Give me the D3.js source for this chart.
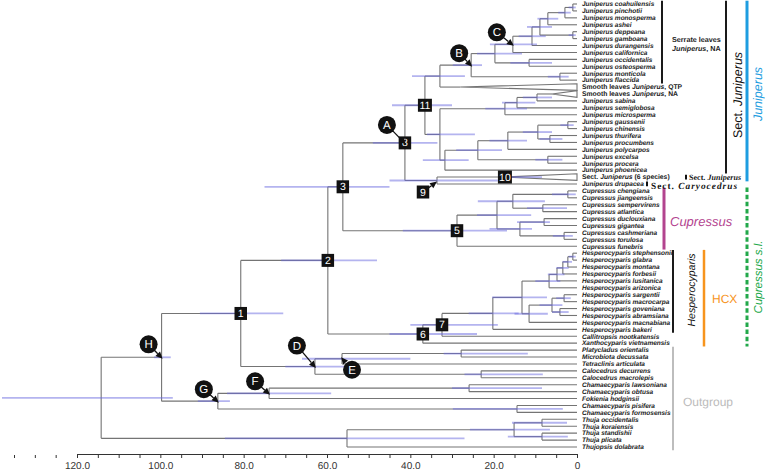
<!DOCTYPE html>
<html><head><meta charset="utf-8">
<script src="https://cdn.jsdelivr.net/npm/d3@7"></script>
<style>body{margin:0;background:#fff}svg{display:block} text{text-rendering:geometricPrecision}</style>
</head><body>
<script>
// ---------- DATA ----------
// tips, top to bottom (*...* = italic)
const tipLabels = [
"*Juniperus coahuilensis*","*Juniperus pinchotii*","*Juniperus monosperma*","*Juniperus ashei*",
"*Juniperus deppeana*","*Juniperus gamboana*","*Juniperus durangensis*","*Juniperus californica*",
"*Juniperus occidentalis*","*Juniperus osteosperma*","*Juniperus monticola*","*Juniperus flaccida*",
"Smooth leaves *Juniperus*, QTP","Smooth leaves *Juniperus*, NA","*Juniperus sabina*","*Juniperus semiglobosa*",
"*Juniperus microsperma*","*Juniperus gaussenii*","*Juniperus chinensis*","*Juniperus thurifera*",
"*Juniperus procumbens*","*Juniperus polycarpos*","*Juniperus excelsa*","*Juniperus procera*",
"*Juniperus phoenicea*","Sect. *Juniperus* (6 species)","*Juniperus drupacea*","*Cupressus chengiana*",
"*Cupressus jiangeensis*","*Cupressus sempervirens*","*Cupressus atlantica*","*Cupressus duclouxiana*",
"*Cupressus gigantea*","*Cupressus cashmeriana*","*Cupressus torulosa*","*Cupressus funebris*",
"*Hesperocyparis stephensonii*","*Hesperocyparis glabra*","*Hesperocyparis montana*","*Hesperocyparis forbesii*",
"*Hesperocyparis lusitanica*","*Hesperocyparis arizonica*","*Hesperocyparis sargentii*","*Hesperocyparis macrocarpa*",
"*Hesperocyparis goveniana*","*Hesperocyparis abramsiana*","*Hesperocyparis macnabiana*","*Hesperocyparis bakeri*",
"*Callitropsis nootkatensis*","*Xanthocyparis vietnamensis*","*Platycladus orientalis*","*Microbiota decussata*",
"*Tetraclinis articulata*","*Calocedrus decurrens*","*Calocedrus macrolepis*","*Chamaecyparis lawsoniana*",
"*Chamaecyparis obtusa*","*Fokienia hodginsii*","*Chamaecyparis pisifera*","*Chamaecyparis formosensis*",
"*Thuja occidentalis*","*Thuja koraiensis*","*Thuja standishii*","*Thuja plicata*","*Thujopsis dolabrata*"
];
const tipParents = [
"nC5","nC5","nC4","nC3","nC6","nC6","nC1","nC","nOO","nOO","nMF","nMF",
"nJa","nS3","nS3","nS2","nS1","nGC","nGC","nTP","nTP","nP2","nEP","nEP",
"nJc","n9","n9","nCJ","nCJ","nSA","nSA","nDG","nDG","nCT","nCT","n5",
"nHt5","nHt5","nHt4","nHt3","nHt2","nHt1","nSM","nSM","nGA","nGA","nHl1","nH0",
"n7","n6","nPM","nPM","nE","nCal","nCal","nLO","nLO","nF","nPF","nPF",
"nOK","nOK","nSP","nSP","nT"
];
// collapsed clades: tip index -> crown age (Ma)
const collapsedTips = [12, 13, 25];
const collapsedCrownAge = [28, 6, 17.3];
const collapsedCrownHpd = [null, null, [17, 8.4]];

// internal nodes: id, parent, age (Ma), 95% HPD [old, young]
const nodeIds     = ["root","nH","n1","n2","n3","n8","n11","nJa","nB","nX1","nC","nC1","nC2","nC3","nC4","nC5","nC6","nOO","nMF",
                     "nJb","nS1","nS2","nS3","nJc","nP1","nP2","nP3","nGC","nTP","nEP","n9",
                     "n5","nCu","nCa","nCJ","nSA","nCb","nDG","nCT",
                     "n6","n7","nH0","nHa","nHt1","nHt2","nHt3","nHt4","nHt5","nHl1","nHl2","nSM","nGA",
                     "nD","nE","nPM","nCal","nG","nF","nLO","nPF","nT","nTc","nOK","nSP"];
const nodeParents = ["","root","nH","n1","n2","n3","n8","n11","nJa","nB","nX1","nC","nC1","nC2","nC3","nC4","nC2","nX1","nB",
                     "n11","nJb","nS1","nS2","nJb","nJc","nP1","nP2","nP3","nP3","nP1","n8",
                     "n3","n5","nCu","nCa","nCa","nCu","nCb","nCb",
                     "n2","n6","n7","nH0","nHa","nHt1","nHt2","nHt3","nHt4","nHa","nHl1","nHl2","nHl2",
                     "n1","nD","nE","nD","nH","nG","nF","nG","root","nT","nTc","nTc"];
const nodeAges    = [114.2,99.7,80.7,59.8,56.2,41.3,36.5,32.9,25.4,19.7,15.4,10.8,8.9,7.0,2.9,1.0,1.0,11.5,4.1,
                     32.9,17.3,14.4,9.6,31.7,23.8,16.6,9.4,2.2,6.5,7.0,33.6,
                     28.8,19.2,15.4,2.2,8.2,13.7,7.9,3.1,
                     37.0,32.4,20.2,13.2,6.7,4.8,3.4,2.2,1.0,11.5,6.0,3.1,4.1,
                     62.9,56.4,27.8,23.0,86.2,73.9,25.9,14.4,55.2,15.1,8.4,8.4];
const hpdOld      = [138,101.5,90.5,71,75,49,44.4,39.6,29.8,24,20.9,14,12,9.5,4.5,2,2,16,7,
                     36,22,18,13,37,29,21,13,4,9,10,45,
                     41.8,24,23.8,6,12,21,14.4,5.8,
                     45,40,26,20.4,10,7,5,3.5,2,15,9,5,6,
                     70,66,32,27,91,84,30,29.8,84.5,25.7,15.6,16.6];
const hpdYoung    = [97,97.5,70.5,48,45,33.5,30,26.9,22.8,13.2,9.6,7.5,6,4.5,1.5,0.3,0.3,6,2,
                     24.5,12,10,6,26,18,12,6,0.8,3.5,3.5,19,
                     16.8,11,7.7,0.3,2.4,10.8,6.5,1,
                     24,19,14,7.2,4,3,2,1.2,0.3,7,3.5,1.5,2,
                     52,40,11.8,8.2,83.3,59,8.4,3.4,27,6.5,2.4,2.2];

// numbered node boxes and lettered callouts
const boxNodes   = ["n1","n2","n3","n5","n6","n7","n8","n11"];
const boxLabels  = ["1","2","3","5","6","7","8","11"];
const letterNodes  = ["n8","nB","nC","nD","nE","nF","nG","nH"];
const letterLabels = ["A","B","C","D","E","F","G","H"];

// axis ticks (Ma)
const majorTicks = [120,100,80,60,40,20,0];
const minorTicks = d3.range(0,121,5);
const extraTicks = [125,130,135];

// clade annotation bars: [first tip, last tip]
const cladeBarTips = [[0,11],[0,24],[0,25],[27,35],[27,49],[36,47],[36,49],[50,64]];

// ---------- LAYOUT / STYLE ----------
const W=765,H=473;
const svg=d3.select("body").append("svg").attr("width",W).attr("height",H);
const FONT="'Liberation Sans', Arial, Helvetica, sans-serif";
const SERIF="'Liberation Serif','Times New Roman',serif";
const x=d3.scaleLinear().domain([120,0]).range([77,577]);
const y=d3.scaleLinear().domain([0,tipLabels.length-1]).range([4,447]);

const rows=nodeIds.map((id,i)=>({id,parentId:nodeParents[i]||null,age:nodeAges[i],hpd:[hpdOld[i],hpdYoung[i]],tip:false}));
tipLabels.forEach((l,i)=>{
  const ci=collapsedTips.indexOf(i);
  rows.push({id:"t"+i,parentId:tipParents[i],age:0,label:l,idx:i,tip:true,
    crown:ci>=0?collapsedCrownAge[ci]:null, crownHpd:ci>=0?collapsedCrownHpd[ci]:null});
});
const root=d3.stratify().id(d=>d.id).parentId(d=>d.parentId)(rows);
root.eachAfter(d=>{
  d.py = d.children ? d3.mean(d.children,c=>c.py) : y(d.data.idx);
  d.px = x(d.data.age);
});
const byId=new Map(root.descendants().map(d=>[d.id,d]));

const BR="#747474";
const gTree=svg.append("g").attr("fill","none").attr("stroke",BR).attr("stroke-width",1.1);
root.descendants().forEach(d=>{
  if(!d.parent) return;
  const x0=d.parent.px;
  const x1 = d.data.crown!=null ? x(d.data.crown) : d.px;
  gTree.append("line").attr("x1",x0).attr("x2",x1).attr("y1",d.py).attr("y2",d.py);
  if(d.data.crown!=null){
    const xc=x(d.data.crown), x0t=x(0);
    gTree.append("path").attr("fill","#fff")
      .attr("d",`M${xc},${d.py}L${x0t},${d.py-3.3}L${x0t},${d.py+3.3}Z`);
  }
});
root.descendants().forEach(d=>{
  if(!d.children) return;
  const ys=d.children.map(c=>c.py);
  gTree.append("line").attr("x1",d.px).attr("x2",d.px).attr("y1",d3.min(ys)).attr("y2",d3.max(ys));
});
// HPD bars
const gH=svg.append("g").attr("stroke","#6a6ae0").attr("stroke-opacity",0.5).attr("stroke-width",1.8);
root.descendants().forEach(d=>{
  if(!d.children) return;
  gH.append("line").attr("x1",x(d.data.hpd[0])).attr("x2",x(d.data.hpd[1])).attr("y1",d.py).attr("y2",d.py);
});
root.leaves().forEach(d=>{
  if(d.data.crownHpd) gH.append("line").attr("x1",x(d.data.crownHpd[0])).attr("x2",x(d.data.crownHpd[1])).attr("y1",d.py).attr("y2",d.py);
});

function rich(t,str,fill){
  str.split("*").forEach((p,i)=>{ if(p){ const s=t.append("tspan").attr("font-style",i%2?"italic":"normal").text(p); if(fill) s.attr("fill",fill);} });
  return t;
}
// tip labels
const gL=svg.append("g").attr("font-family",FONT).attr("font-weight","bold").attr("fill","#1a1a1a").attr("opacity",0.999);
root.leaves().forEach(d=>{
  const coll=d.data.crown!=null;
  const t=gL.append("text").attr("x",x(0)+5).attr("y",d.py+2.3).attr("font-size",coll?6.8:6.5);
  rich(t,d.data.label,"#1a1a1a");
});

// node boxes
const gB=svg.append("g").attr("font-family",FONT);
function box(cx,cy,lab){
  const w=lab.length>1?14:12.5,h=13;
  gB.append("rect").attr("x",cx-w/2).attr("y",cy-h/2).attr("width",w).attr("height",h).attr("fill","#111");
  gB.append("text").attr("x",cx).attr("y",cy+3.6).attr("text-anchor","middle").attr("fill","#fff").attr("font-size",10.5).text(lab);
}
boxNodes.forEach((id,i)=>{const d=byId.get(id); box(d.px,d.py,boxLabels[i]);});
{const d=byId.get("t25"); box(x(d.data.crown),d.py,"10");}

function pointer(cx,cy,r,tx,ty){
  const dx=tx-cx,dy=ty-cy,L=Math.hypot(dx,dy),ux=dx/L,uy=dy/L,nx=-uy,ny=ux;
  const bx=cx+ux*(r-1),by=cy+uy*(r-1);
  const headLen=Math.min(7,L-r+1), hx=tx-ux*headLen, hy=ty-uy*headLen;
  if(L-r>8) gB.append("line").attr("x1",bx).attr("y1",by).attr("x2",hx).attr("y2",hy).attr("stroke","#111").attr("stroke-width",1.3);
  const hw=3.2;
  gB.append("path").attr("fill","#111").attr("d",`M${tx},${ty}L${hx+nx*hw},${hy+ny*hw}L${hx-nx*hw},${hy-ny*hw}Z`);
}
{const d=byId.get("n9"); const cx=d.px-14, cy=d.py+11.5; pointer(cx,cy,6,d.px,d.py+1); box(cx,cy,"9");}

const letterOffset={A:[-18,-18],B:[-12,-12],C:[-16,-12],D:[-18,-21],E:[10,11],F:[-14,-12],G:[-14,-12],H:[-13,-13]};
letterNodes.forEach((id,i)=>{
  const d=byId.get(id), L=letterLabels[i], o=letterOffset[L];
  const cx=d.px+o[0], cy=d.py+o[1];
  const tx=d.px-Math.sign(o[0])*1, ty=d.py-Math.sign(o[1])*1.5;
  pointer(cx,cy,9,tx,ty);
  gB.append("circle").attr("cx",cx).attr("cy",cy).attr("r",9).attr("fill","#111");
  gB.append("text").attr("x",cx).attr("y",cy+4).attr("text-anchor","middle").attr("fill","#fff").attr("font-size",11.5).text(L);
});

// axis
const axisY=454;
const ga=svg.append("g").attr("transform",`translate(0,${axisY})`)
  .call(d3.axisBottom(x).tickValues(minorTicks).tickSize(4).tickSizeOuter(0).tickPadding(4)
    .tickFormat(d=>majorTicks.includes(d)?(d===0?"0":d.toFixed(1)):""));
ga.select(".domain").attr("stroke","#333");
ga.selectAll(".tick line").attr("stroke","#333");
ga.selectAll(".tick text").attr("font-family",FONT).attr("font-size",10).attr("fill","#333");
svg.append("g").selectAll("line").data(extraTicks).join("line")
  .attr("x1",d=>x(d)).attr("x2",d=>x(d)).attr("y1",axisY+1).attr("y2",axisY+4).attr("stroke","#333");

// clade bars
const barStyle=[
  {x:662,c:"#1a1a1a",w:2},{x:726,c:"#1a1a1a",w:2},{x:747,c:"#1e9de0",w:3,end:1},
  {x:664,c:"#b3448f",w:3},{x:747,c:"#22a84a",w:3,dash:"4.5,2.6"},{x:673,c:"#1a1a1a",w:2},
  {x:704,c:"#f7941d",w:2.5},{x:673,c:"#bdbdbd",w:2}];
const gA=svg.append("g");
cladeBarTips.forEach((r,i)=>{
  const s=barStyle[i];
  gA.append("line").attr("x1",s.x).attr("x2",s.x).attr("y1",y(r[0])-3.3).attr("y2",y(r[1])+3.3+(s.end||0))
    .attr("stroke",s.c).attr("stroke-width",s.w).attr("stroke-dasharray",s.dash||null);
});
[[25,686],[26,647]].forEach(([ti,xx])=>{
  gA.append("line").attr("x1",xx).attr("x2",xx).attr("y1",y(ti)-2.4).attr("y2",y(ti)+2.4).attr("stroke","#111").attr("stroke-width",2);
});
const gT=svg.append("g").attr("font-family",FONT).attr("opacity",0.999);
function txt(str,px,py,opt){
  const t=gT.append("text").attr("font-size",opt.size).attr("fill",opt.fill||"#111")
    .attr("font-weight",opt.weight||"normal").attr("font-family",opt.family||FONT);
  if(opt.rot){ t.attr("transform",`translate(${px},${py}) rotate(-90)`).attr("text-anchor","middle").attr("dy","0.35em"); }
  else t.attr("x",px).attr("y",py);
  if(opt.len) t.attr("textLength",opt.len);
  return rich(t,str,opt.fill||"#111");
}
txt("Serrate leaves",672,42,{size:7.2,weight:"bold",fill:"#222"});
txt("*Juniperus*, NA",672,50.5,{size:7.2,weight:"bold",fill:"#222"});
txt("Sect. *Juniperus*",738,95,{size:12.5,rot:true});
txt("*Juniperus*",758,94,{size:12.5,rot:true,fill:"#1e9de0"});
txt("*Cupressus*",670,226,{size:13,fill:"#b3448f"});
txt("*Cupressus s.l.*",758,277,{size:11.5,rot:true,fill:"#22a84a"});
txt("*Hesperocyparis*",691,290,{size:10.5,rot:true});
txt("HCX",712,303,{size:12,fill:"#f7941d"});
txt("Outgroup",683,406,{size:12,fill:"#bbbbbb"});
txt("Sect. *Juniperus*",689,y(25)+2.6,{size:8,weight:"bold",family:SERIF,len:52});
txt("Sect. *Caryocedrus*",651,y(26)+5,{size:9.3,weight:"bold",family:SERIF,len:86});
</script>
</body></html>
